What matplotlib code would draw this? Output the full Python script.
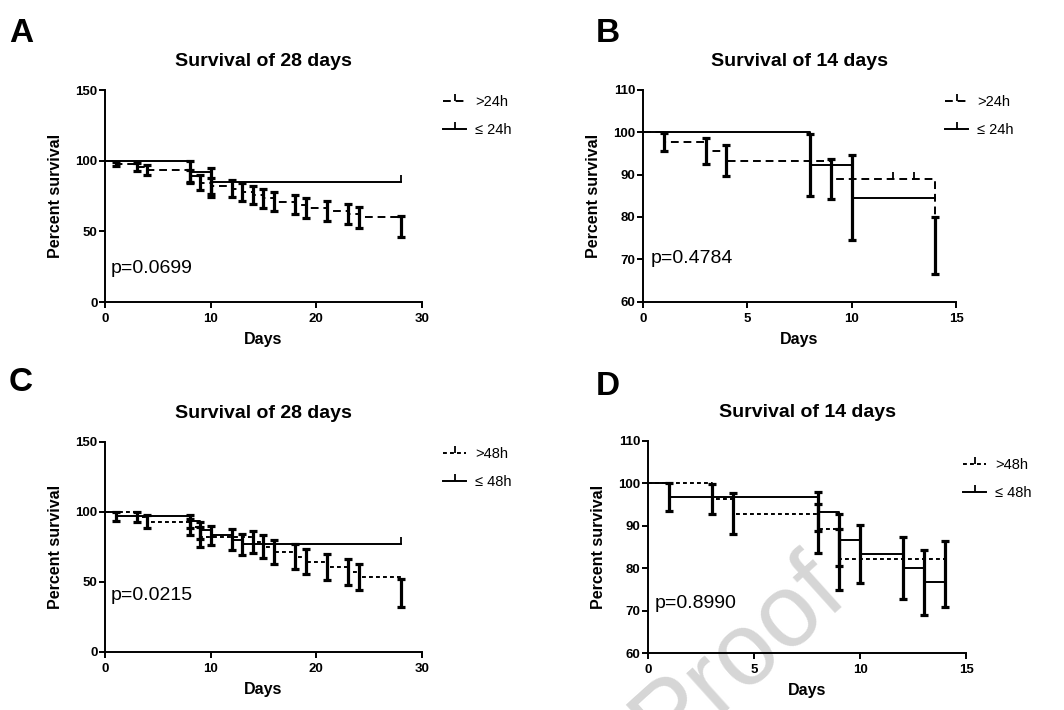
import matplotlib
matplotlib.use("Agg")
import matplotlib.pyplot as plt
from matplotlib.lines import Line2D

plt.rcParams['font.family'] = ['Liberation Sans', 'DejaVu Sans']

# ---------------- data ----------------
# Panel A (28 days, cut-off 24h)
a_le_t = [8, 10]
a_le_s = [92.3, 84.6]
a_le_se = [7.4, 10.0]
a_gt_t = [1, 3, 4, 8, 9, 10, 12, 13, 14, 15, 16, 18, 19, 21, 23, 24, 28]
a_gt_s = [97.8, 95.6, 93.3, 88.9, 84.4, 82.2, 80.0, 77.8, 75.6, 73.3, 71.1, 68.9, 66.7, 64.4, 62.2, 60.0, 53.3]
a_gt_se = [1.5, 3.1, 3.7, 4.7, 5.4, 5.7, 6.0, 6.2, 6.4, 6.6, 6.8, 6.9, 7.0, 7.1, 7.2, 7.3, 7.4]
a_le_cens = [28]
a_gt_cens = []

# Panel B (14 days, cut-off 24h)
b_le_t = [8, 10]
b_le_s = [92.3, 84.6]
b_le_se = [7.4, 10.0]
b_gt_t = [1, 3, 4, 9, 14]
b_gt_s = [97.8, 95.6, 93.3, 88.9, 73.3]
b_gt_se = [2.1, 3.1, 3.7, 4.7, 6.7]
b_le_cens = []
b_gt_cens = [12, 13]

# Panel C (28 days, cut-off 48h)
c_le_t = [1, 8, 9, 10, 12, 13]
c_le_s = [96.7, 93.3, 86.7, 83.3, 80.0, 76.7]
c_le_se = [3.3, 4.6, 6.2, 6.8, 7.3, 7.7]
c_gt_t = [3, 4, 8, 9, 14, 15, 16, 18, 19, 21, 23, 24, 28]
c_gt_s = [96.4, 92.9, 89.3, 82.1, 78.6, 75.0, 71.4, 67.9, 64.3, 60.7, 57.1, 53.6, 42.0]
c_gt_se = [3.5, 4.9, 5.8, 7.2, 7.8, 8.2, 8.5, 8.8, 9.1, 9.2, 9.4, 9.4, 9.8]
c_le_cens = [28]
c_gt_cens = []

# Panel D (14 days, cut-off 48h)
d_le_t = [1, 8, 9, 10, 12, 13]
d_le_s = [96.7, 93.3, 86.7, 83.3, 80.0, 76.7]
d_le_se = [3.3, 4.6, 6.2, 6.8, 7.3, 7.7]
d_gt_t = [3, 4, 8, 9, 14]
d_gt_s = [96.4, 92.9, 89.3, 82.1, 78.6]
d_gt_se = [3.5, 4.9, 5.8, 7.2, 7.8]
d_le_cens = []
d_gt_cens = []

panels = [
    dict(letter='A', title='Survival of 28 days', end=28, xlim=(0, 30), xticks=[0, 10, 20, 30],
         ylim=(0, 150), yticks=[0, 50, 100, 150], p='p=0.0699', p_xy=(0.5, 24),
         lab_gt='>24h', lab_le='\u2264 24h', dash=(0, (4, 2.5)),
         le=(a_le_t, a_le_s, a_le_se, a_le_cens), gt=(a_gt_t, a_gt_s, a_gt_se, a_gt_cens),
         rect=(0.0987, 0.5746, 0.2979, 0.2986), letter_xy=(9, 42), leg=(1.066, 0.975)),
    dict(letter='B', title='Survival of 14 days', end=14, xlim=(0, 15), xticks=[0, 5, 10, 15],
         ylim=(60, 110), yticks=[60, 70, 80, 90, 100, 110], p='p=0.4784', p_xy=(0.35, 70.3),
         lab_gt='>24h', lab_le='\u2264 24h', dash=(0, (4, 2.5)),
         le=(b_le_t, b_le_s, b_le_se, b_le_cens), gt=(b_gt_t, b_gt_s, b_gt_se, b_gt_cens),
         rect=(0.6043, 0.5751, 0.2942, 0.2982), letter_xy=(596, 42), leg=(0.965, 0.975)),
    dict(letter='C', title='Survival of 28 days', end=28, xlim=(0, 30), xticks=[0, 10, 20, 30],
         ylim=(0, 150), yticks=[0, 50, 100, 150], p='p=0.0215', p_xy=(0.5, 40.5),
         lab_gt='>48h', lab_le='\u2264 48h', dash=(0, (2, 1.6)),
         le=(c_le_t, c_le_s, c_le_se, c_le_cens), gt=(c_gt_t, c_gt_s, c_gt_se, c_gt_cens),
         rect=(0.0987, 0.0821, 0.2979, 0.2958), letter_xy=(9, 391), leg=(1.066, 0.975)),
    dict(letter='D', title='Survival of 14 days', end=14, xlim=(0, 15), xticks=[0, 5, 10, 15],
         ylim=(60, 110), yticks=[60, 70, 80, 90, 100, 110], p='p=0.8990', p_xy=(0.3, 71.8),
         lab_gt='>48h', lab_le='\u2264 48h', dash=(0, (2, 1.6)),
         le=(d_le_t, d_le_s, d_le_se, d_le_cens), gt=(d_gt_t, d_gt_s, d_gt_se, d_gt_cens),
         rect=(0.6093, 0.0799, 0.2989, 0.2990), letter_xy=(596, 395), leg=(0.99, 0.92)),
]

W, H = 1064, 710
fig = plt.figure(figsize=(W / 100, H / 100), dpi=100)

# watermark
fig.text(0.695, 0.075, 'Proof', fontsize=74, color='#d6d6d6', rotation=42,
         ha='center', va='center', zorder=-5)


def draw_curve(ax, data, end, ls):
    t, s, se, cens = data
    xs = [0] + list(t) + [end]
    ys = [100] + list(s) + [s[-1]]
    ax.step(xs, ys, where='post', color='black', lw=1.4, linestyle=ls, zorder=3)
    ax.errorbar(t, s, yerr=se, fmt='none', ecolor='black', elinewidth=2.3,
                capsize=3.2, capthick=2.3, zorder=4)
    if cens:
        level = []
        for c in cens:
            v = 100
            for ti, si in zip(t, s):
                if ti <= c:
                    v = si
            level.append(v)
        ax.plot(cens, level, linestyle='none', marker=2, markersize=5,
                markeredgewidth=1.3, color='black', zorder=4)


for P in panels:
    ax = fig.add_axes(P['rect'])
    ax.patch.set_alpha(0)
    draw_curve(ax, P['le'], P['end'], '-')
    draw_curve(ax, P['gt'], P['end'], P['dash'])
    ax.set_xlim(*P['xlim'])
    ax.set_ylim(*P['ylim'])
    ax.set_xticks(P['xticks'])
    ax.set_yticks(P['yticks'])
    for sp in ['top', 'right']:
        ax.spines[sp].set_visible(False)
    for sp in ['left', 'bottom']:
        ax.spines[sp].set_linewidth(1.4)
    ax.tick_params(axis='both', length=4, width=1.4, labelsize=9.5)
    ax.tick_params(axis='y', pad=1.5)
    ax.tick_params(axis='x', pad=4)
    for lab in ax.get_xticklabels() + ax.get_yticklabels():
        lab.set_fontweight('bold')
    ax.set_xlabel('Days', fontsize=11.5, fontweight='bold', labelpad=5)
    ax.set_ylabel('Percent survival', fontsize=11.5, fontweight='bold', labelpad=9)
    ax.set_title(P['title'], fontsize=14, fontweight='bold', pad=17)
    ax.text(P['p_xy'][0], P['p_xy'][1], P['p'], fontsize=14, ha='left', va='center')
    handles = [Line2D([], [], color='black', lw=1.4, linestyle=P['dash'], marker=2,
                      markersize=5, markeredgewidth=1.3),
               Line2D([], [], color='black', lw=1.4, linestyle='-', marker=2,
                      markersize=5, markeredgewidth=1.3)]
    ax.legend(handles, [P['lab_gt'], P['lab_le']], loc='upper left',
              bbox_to_anchor=P['leg'], frameon=False, fontsize=10.5,
              handlelength=1.6, handletextpad=0.6, labelspacing=0.95,
              borderaxespad=0, borderpad=0)
    fig.text(P['letter_xy'][0] / W, 1 - P['letter_xy'][1] / H, P['letter'],
             fontsize=24, fontweight='bold', ha='left', va='baseline')

fig.savefig('out.png', dpi=100)
